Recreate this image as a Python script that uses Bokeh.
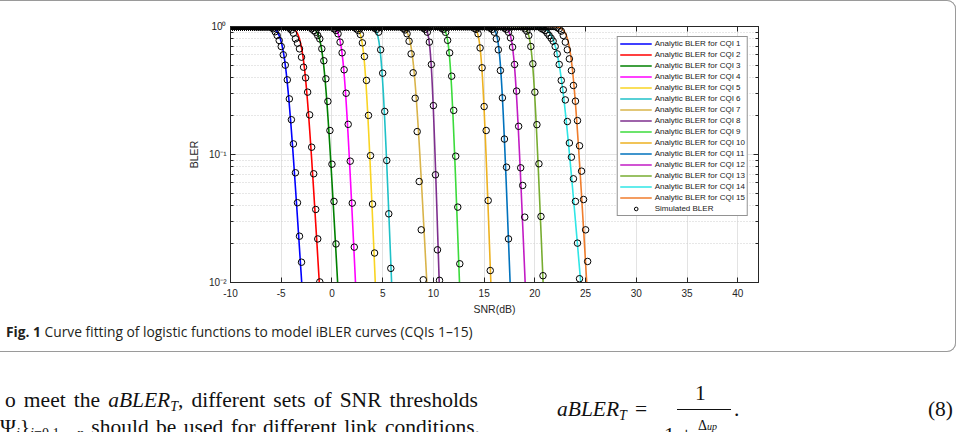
import numpy as np
from bokeh.plotting import figure
from bokeh.models import (Range1d, FixedTicker, LinearAxis, LogAxis, Legend,
                          LegendItem, ColumnDataSource, Div)
from bokeh.layouts import column
from bokeh.embed import file_html
from bokeh.resources import INLINE

# ---------------- data ----------------
cqi_ids = list(range(1, 16))
cqi_labels = ["Analytic BLER for CQI %d" % i for i in cqi_ids]
cqi_colors = ["#0000FF", "#FF0000", "#008000", "#FF00FF", "#F9D423",
              "#1FC1C8", "#D9B44A", "#7E2F8E", "#3BDB3B", "#EDB120",
              "#0072BD", "#C21BC4", "#77AC30", "#2FE6E6", "#F07D2C"]

# logistic fit of each analytic curve: SNR (dB) at BLER = 0.5 and steepness (1/dB)
fit_midpoint_db = [-4.6, -2.75, -0.82, 1.12, 3.22, 4.88, 8.03, 9.78, 11.65,
                   14.75, 16.6, 17.98, 19.78, 22.4, 23.65]
fit_slope = [2.84, 3.06, 3.33, 3.83, 4.38, 4.6, 3.48, 5.8, 5.0,
             5.05, 4.79, 4.33, 4.46, 2.17, 3.15]

# simulated BLER: SNR grid from -10 dB in 0.2 dB steps; BLER = 1 before each start
snr_min_db = -10.0
sim_step_db = 0.2
sim_start_db = [-5.8, -4.2, -2.0, 0.2, 2.4, 4.2, 7.0, 9.0, 10.8,
                14.0, 15.6, 17.0, 19.0, 20.6, 22.2]
sim_bler_cqi1 = [0.96, 0.91, 0.851, 0.778, 0.698, 0.601, 0.499, 0.383, 0.272,
                 0.187, 0.121, 0.072, 0.042, 0.023, 0.0144]
sim_bler_cqi2 = [0.97, 0.94, 0.887, 0.801, 0.741, 0.669, 0.576, 0.481, 0.397,
                 0.307, 0.204, 0.114, 0.0707, 0.0372, 0.0219, 0.0101]
sim_bler_cqi3 = [0.96, 0.93, 0.90, 0.85, 0.80, 0.67, 0.54, 0.39, 0.26, 0.154,
                 0.084, 0.043, 0.020]
sim_bler_cqi4 = [0.96, 0.93, 0.877, 0.755, 0.623, 0.459, 0.301, 0.172, 0.0887,
                 0.0417, 0.0189]
sim_bler_cqi5 = [0.96, 0.93, 0.866, 0.745, 0.583, 0.379, 0.202, 0.098, 0.041, 0.017]
sim_bler_cqi6 = [0.97, 0.95, 0.903, 0.658, 0.432, 0.217, 0.0898, 0.0344, 0.0129]
sim_bler_cqi7 = [0.97, 0.94, 0.877, 0.768, 0.611, 0.435, 0.275, 0.151, 0.0615,
                 0.0258, 0.0105]
sim_bler_cqi8 = [0.97, 0.95, 0.903, 0.755, 0.505, 0.241, 0.0694, 0.018, 0.0104]
sim_bler_cqi9 = [0.97, 0.95, 0.90, 0.78, 0.623, 0.409, 0.221, 0.097, 0.0388, 0.014]
sim_bler_cqi10 = [0.97, 0.95, 0.877, 0.68, 0.476, 0.237, 0.154, 0.0437, 0.0124]
sim_bler_cqi11 = [0.97, 0.95, 0.903, 0.80, 0.658, 0.453, 0.277, 0.132, 0.0796, 0.0219]
sim_bler_cqi12 = [0.97, 0.95, 0.903, 0.815, 0.690, 0.505, 0.313, 0.166, 0.0787,
                  0.0573, 0.0324]
sim_bler_cqi13 = [0.96, 0.92, 0.851, 0.698, 0.511, 0.307, 0.171, 0.0846, 0.0328, 0.0113]
sim_bler_cqi14 = [0.97, 0.95, 0.93, 0.89, 0.851, 0.81, 0.768, 0.698, 0.611, 0.505,
                  0.379, 0.32, 0.267, 0.181, 0.123, 0.0953, 0.0646, 0.043, 0.0203, 0.0107]
sim_bler_cqi15 = [0.98, 0.96, 0.92, 0.851, 0.755, 0.658, 0.559, 0.453, 0.346, 0.261,
                  0.184, 0.117, 0.0741, 0.0445, 0.0258, 0.0146]

x_ticks = [-10, -5, 0, 5, 10, 15, 20, 25, 30, 35, 40]
x_tick_labels = ["-10", "-5", "0", "5", "10", "15", "20", "25", "30", "35", "40"]
y_ticks = [0.01, 0.1, 1.0]
y_tick_labels = ["10\u207b\u00b2", "10\u207b\u00b9", "10\u2070"]
y_minor_ticks = [0.02, 0.03, 0.04, 0.05, 0.06, 0.07, 0.08, 0.09,
                 0.2, 0.3, 0.4, 0.5, 0.6, 0.7, 0.8, 0.9]

caption_bold = "Fig. 1"
caption_text = "Curve fitting of logistic functions to model iBLER curves (CQIs 1\u201315)"

sim_lists = [sim_bler_cqi1, sim_bler_cqi2, sim_bler_cqi3, sim_bler_cqi4, sim_bler_cqi5,
             sim_bler_cqi6, sim_bler_cqi7, sim_bler_cqi8, sim_bler_cqi9, sim_bler_cqi10,
             sim_bler_cqi11, sim_bler_cqi12, sim_bler_cqi13, sim_bler_cqi14, sim_bler_cqi15]

# ---------------- figure ----------------
AX = "#262626"
SANS = "Liberation Sans"

pA = figure(width=956, height=318, x_range=Range1d(-10, 42.04), y_range=Range1d(0.01, 1.0),
            y_axis_type="log", output_backend="svg", toolbar_location=None,
            min_border_left=230, min_border_right=198, min_border_top=26,
            min_border_bottom=36, margin=0)
pA.background_fill_color = "white"
pA.border_fill_color = None
pA.outline_line_color = AX
pA.outline_line_width = 1

snr_line = np.arange(-10.0, 42.05, 0.025)
line_renderers = []
for k in range(15):
    z = np.clip(fit_slope[k] * (snr_line - fit_midpoint_db[k]), -700, 700)
    bler = np.maximum(1.0 / (1.0 + np.exp(z)), 1e-8)
    src = ColumnDataSource(dict(x=snr_line, y=bler))
    r = pA.line("x", "y", source=src, line_color=cqi_colors[k], line_width=1.6)
    line_renderers.append(r)

sx, sy = [], []
for k in range(15):
    start = sim_start_db[k]
    n_pre = int(round((start - snr_min_db) / sim_step_db))
    sx += [round(snr_min_db + i * sim_step_db, 3) for i in range(n_pre)]
    sy += [1.0] * n_pre
    sx += [round(start + i * sim_step_db, 3) for i in range(len(sim_lists[k]))]
    sy += list(sim_lists[k])
sim_src = ColumnDataSource(dict(x=sx, y=sy))
sim_r = pA.scatter("x", "y", source=sim_src, marker="circle", size=6.5,
                   fill_color=None, line_color="black", line_width=1)

# axes
xt = FixedTicker(ticks=x_ticks, minor_ticks=[])
yt = FixedTicker(ticks=y_ticks, minor_ticks=y_minor_ticks)
xa = pA.xaxis[0]
ya = pA.yaxis[0]
xa.ticker = xt
ya.ticker = yt
xa.major_label_overrides = {t: s for t, s in zip(x_ticks, x_tick_labels)}
ya.major_label_overrides = {t: s for t, s in zip(y_ticks, y_tick_labels)}
xa.axis_label = "SNR(dB)"
ya.axis_label = "BLER"

top_ax = LinearAxis(ticker=FixedTicker(ticks=x_ticks, minor_ticks=[]))
right_ax = LogAxis(ticker=FixedTicker(ticks=y_ticks, minor_ticks=y_minor_ticks))
pA.add_layout(top_ax, "above")
pA.add_layout(right_ax, "right")

for ax in [xa, ya, top_ax, right_ax]:
    ax.axis_line_color = AX
    ax.axis_line_width = 1
    ax.major_tick_line_color = AX
    ax.minor_tick_line_color = AX
    ax.major_tick_in = 5
    ax.major_tick_out = 0
    ax.minor_tick_in = 3
    ax.minor_tick_out = 0
    ax.major_label_text_font = SANS
    ax.major_label_text_font_size = "10px"
    ax.major_label_text_color = AX
    ax.axis_label_text_font = SANS
    ax.axis_label_text_font_size = "10.5px"
    ax.axis_label_text_font_style = "normal"
    ax.axis_label_text_color = AX
for ax in [top_ax, right_ax]:
    ax.major_label_text_color = None
    ax.major_label_standoff = 0
xa.major_label_standoff = 6
xa.axis_label_standoff = 3
ya.major_label_standoff = 4
ya.axis_label_standoff = 6

pA.xgrid.ticker = xt
pA.ygrid.ticker = yt
pA.xgrid.grid_line_color = "#e3e3e3"
pA.ygrid.grid_line_color = "#e3e3e3"
pA.ygrid.minor_grid_line_color = "#cfcfcf"
pA.ygrid.minor_grid_line_dash = "1 2"

items = [LegendItem(label=cqi_labels[k], renderers=[line_renderers[k]]) for k in range(15)]
items.append(LegendItem(label="Simulated BLER", renderers=[sim_r]))
legend = Legend(items=items, location="top_right", margin=10, padding=2, spacing=2,
                glyph_width=32, glyph_height=9, label_height=9, label_standoff=3,
                label_text_font=SANS, label_text_font_size="8px",
                label_text_color="#1a1a1a", border_line_color=AX,
                border_line_width=1, background_fill_color="white",
                background_fill_alpha=1.0)
pA.add_layout(legend)

# ---------------- caption (inside the figure box) ----------------
cap_html = (
    '<div style="position:relative;width:956px;height:34px;overflow:hidden;">'
    '<div style="position:absolute;left:6px;top:7.3px;white-space:nowrap;'
    "font-family:'Open Sans',sans-serif;font-size:13.8px;line-height:14px;"
    'color:#231f20;"><b>' + caption_bold + '</b> ' + caption_text + '</div></div>')
div_cap = Div(text=cap_html, width=956, height=34, margin=0)

fig_box = column(pA, div_cap, spacing=0, margin=0)
fig_box.styles = {
    "box-shadow": "inset 0 1px 0 #9a9a9a, inset -1px 0 0 #9a9a9a, inset 0 -1px 0 #9a9a9a",
    "border-radius": "0 9px 9px 0",
}

# ---------------- page text below the figure ----------------
SUB = 'font-size:14px;line-height:0;vertical-align:-4px;'
body_html = (
    '<div style="position:relative;width:956px;height:80px;overflow:hidden;'
    "font-family:'Liberation Serif',serif;font-size:21.5px;line-height:21.5px;color:#111;\">"
    # line 1
    '<div style="position:absolute;left:5px;top:38.3px;width:473px;'
    'text-align:justify;text-align-last:justify;white-space:normal;">'
    'o meet the <i>aBLER</i><span style="' + SUB + '"><i>T</i></span>, '
    'different sets of SNR thresholds</div>'
    # line 2 (cut by the page edge)
    '<div style="position:absolute;left:0px;top:64.7px;width:480px;'
    'text-align:justify;text-align-last:justify;white-space:normal;">'
    '\u03a8<span style="' + SUB + '"><i>i</i></span>}'
    '<span style="' + SUB + '"><i>i</i>=0,1,...,<i>n</i></span> '
    'should be used for different link conditions.</div>'
    # equation (8)
    '<div style="position:absolute;left:557px;top:47px;white-space:nowrap;">'
    '<i>aBLER</i><span style="' + SUB + '"><i>T</i></span></div>'
    '<div style="position:absolute;left:635px;top:47px;">=</div>'
    '<div style="position:absolute;left:695px;top:31px;">1</div>'
    '<div style="position:absolute;left:677px;top:57px;width:54px;height:0;'
    'border-top:1px solid #111;"></div>'
    '<div style="position:absolute;left:734px;top:47px;">.</div>'
    '<div style="position:absolute;right:3px;top:47px;">(8)</div>'
    '<div style="position:absolute;left:664px;top:72.5px;white-space:nowrap;">1 +</div>'
    '<div style="position:absolute;left:698px;top:67.3px;font-size:14px;line-height:14px;'
    'white-space:nowrap;">\u0394<i style="font-size:10px;">up</i></div>'
    '</div>')
div_body = Div(text=body_html, width=956, height=80, margin=0)

layout = column(fig_box, div_body, spacing=0, margin=0)
open("out.html", "w").write(file_html(layout, INLINE))
